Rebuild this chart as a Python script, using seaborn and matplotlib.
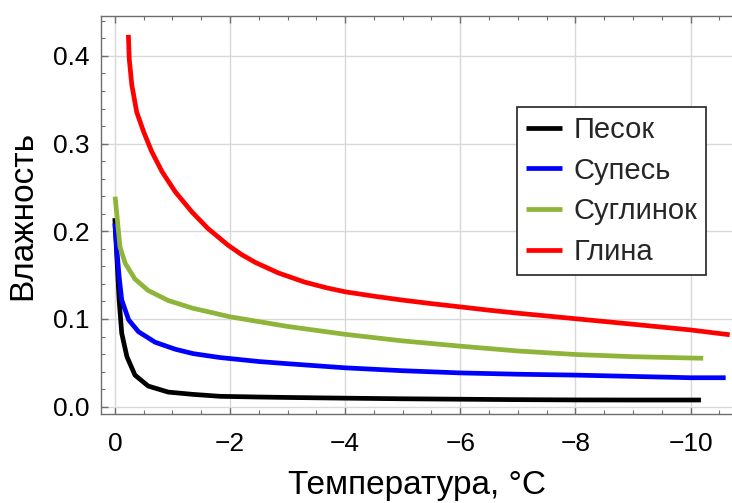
import numpy as np
import pandas as pd
import matplotlib
matplotlib.use("Agg")
import matplotlib.pyplot as plt
import seaborn as sns
from matplotlib.ticker import MultipleLocator, FormatStrFormatter, FuncFormatter

series_names = ["Песок", "Супесь", "Суглинок", "Глина"]
colors = ["#000000", "#0000ff", "#8fb43a", "#ff0000"]

sand_t = [0.0, -0.035, -0.075, -0.12, -0.21, -0.35, -0.58, -0.93, -1.36, -1.83,
          -2.5, -3.0, -4.0, -5.0, -6.0, -7.0, -8.0, -9.0, -10.18]
sand_w = [0.215, 0.171, 0.1217, 0.0837, 0.057, 0.036, 0.0235, 0.0166, 0.014, 0.0118,
          0.011, 0.0105, 0.0097, 0.009, 0.0085, 0.008, 0.0077, 0.0076, 0.0076]

sandy_loam_t = [0.0, -0.035, -0.075, -0.12, -0.24, -0.41, -0.70, -1.05, -1.36, -1.83,
                -2.5, -3.0, -4.0, -5.0, -6.0, -7.0, -8.0, -9.0, -10.0, -10.61]
sandy_loam_w = [0.209, 0.179, 0.148, 0.1217, 0.099, 0.0855, 0.0735, 0.0655, 0.0605, 0.056,
                0.0515, 0.049, 0.0443, 0.041, 0.0385, 0.037, 0.036, 0.0345, 0.033, 0.033]

loam_t = [-0.005, -0.05, -0.09, -0.18, -0.35, -0.58, -0.93, -1.34, -2.0, -2.5, -3.0,
          -3.5, -4.0, -5.0, -6.0, -7.0, -8.0, -9.0, -10.0, -10.22]
loam_w = [0.2395, 0.209, 0.182, 0.1635, 0.1455, 0.1325, 0.121, 0.1125, 0.1025, 0.097, 0.0915,
          0.087, 0.0825, 0.075, 0.069, 0.0635, 0.0595, 0.057, 0.0555, 0.0552]

clay_t = [-0.236, -0.25, -0.295, -0.38, -0.50, -0.64, -0.82, -1.05, -1.34, -1.62, -1.97,
          -2.2, -2.44, -2.84, -3.3, -3.68, -4.0, -4.5, -5.0, -5.5, -6.0, -6.5, -7.0, -8.0,
          -9.0, -10.0, -10.68]
clay_w = [0.424, 0.397, 0.367, 0.336, 0.3136, 0.291, 0.268, 0.245, 0.222, 0.203, 0.184,
          0.1735, 0.1645, 0.1525, 0.142, 0.1355, 0.131, 0.126, 0.1215, 0.1175, 0.1138, 0.110,
          0.1066, 0.1003, 0.094, 0.0875, 0.082]

frames = []
for name, t, w in zip(series_names, [sand_t, sandy_loam_t, loam_t, clay_t],
                      [sand_w, sandy_loam_w, loam_w, clay_w]):
    frames.append(pd.DataFrame({"t": t, "w": w, "soil": name}))
df = pd.concat(frames, ignore_index=True)

sns.set_theme(style="white")
plt.rcParams["font.family"] = ["Liberation Sans", "DejaVu Sans"]

fig = plt.figure(figsize=(7.32, 5.03), dpi=100)
ax = fig.add_axes([101 / 732, 88.7 / 503, 631 / 732, 398.3 / 503])

sns.lineplot(data=df, x="t", y="w", hue="soil", hue_order=series_names,
             palette=colors, estimator=None, sort=False, linewidth=3.4,
             solid_joinstyle="round", solid_capstyle="butt", ax=ax)

ax.set_xlim(0.24, -10.72)
ax.set_ylim(-0.0087, 0.4455)

ax.xaxis.set_major_locator(MultipleLocator(2))
ax.xaxis.set_minor_locator(MultipleLocator(0.5))
ax.yaxis.set_major_locator(MultipleLocator(0.1))
ax.yaxis.set_minor_locator(MultipleLocator(0.02))
ax.yaxis.set_major_formatter(FormatStrFormatter("%.1f"))
ax.xaxis.set_major_formatter(FuncFormatter(
    lambda v, p: "0" if abs(v) < 1e-9 else ("\u2212%d" % round(-v) if v < 0 else "%d" % round(v))))

ax.grid(True, which="major", color="#d9d9d9", linewidth=1.0)
ax.set_axisbelow(True)

for s in ["left", "bottom", "top"]:
    ax.spines[s].set_visible(True)
    ax.spines[s].set_color("#6e6e6e")
    ax.spines[s].set_linewidth(1.0)
ax.spines["right"].set_visible(False)

ax.tick_params(which="both", direction="in", top=True, bottom=True, left=True, right=False,
               color="#6e6e6e", labelsize=19, labelcolor="black")
ax.tick_params(which="major", length=5, width=1)
ax.tick_params(which="minor", length=3, width=0.8)
ax.tick_params(axis="x", pad=13)
ax.tick_params(axis="y", pad=8)

ax.set_xlabel("Температура, °C", fontsize=24, color="black", labelpad=10)
ax.set_ylabel("Влажность", fontsize=24, color="black", labelpad=11)

leg = ax.legend(loc="upper left", bbox_to_anchor=(0.659, 0.7715), fontsize=21,
                frameon=True, fancybox=False, edgecolor="#222222", framealpha=1,
                handlelength=1.25, handletextpad=0.4, labelspacing=0.44,
                borderpad=0.3, borderaxespad=0, title=None)
leg.get_frame().set_linewidth(1.2)
for line in leg.get_lines():
    line.set_linewidth(3.4)

fig.savefig("out.png", dpi=100)
